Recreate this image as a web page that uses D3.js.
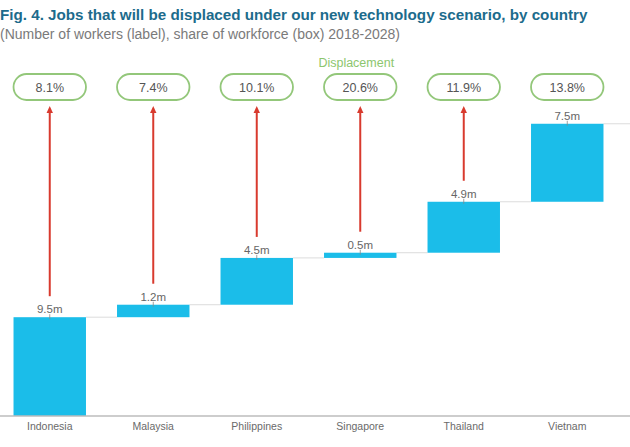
<!DOCTYPE html>
<html><head><meta charset="utf-8">
<script src="https://cdn.jsdelivr.net/npm/d3@7/dist/d3.min.js"></script>
<style>body{margin:0;background:#fff}svg{display:block}</style>
</head><body>
<svg id="c" width="630" height="447"></svg>
<script>
const countries = ["Indonesia","Malaysia","Philippines","Singapore","Thailand","Vietnam"];
const workers = [9.5, 1.2, 4.5, 0.5, 4.9, 7.5];
const workerLabels = ["9.5m","1.2m","4.5m","0.5m","4.9m","7.5m"];
const shares = ["8.1%","7.4%","10.1%","20.6%","11.9%","13.8%"];
const hasArrow = [true, true, true, true, true, false];

const svg = d3.select("#c");
const font = "'Liberation Sans', Arial, sans-serif";

// cumulative
let acc = 0;
const data = countries.map((c, i) => { const s = acc; acc += workers[i]; return {c, i, start: s, end: acc}; });

const x = d3.scaleBand().domain(countries).range([-2, 619]).paddingInner(0.3).paddingOuter(0.15);
const y = d3.scaleLinear().domain([0, 30]).range([416, 104]);

// title
svg.append("text").attr("x", 0).attr("y", 20).attr("font-family", font).attr("font-weight", "bold")
  .attr("font-size", 15.2).attr("fill", "#1c6b8c")
  .text("Fig. 4. Jobs that will be displaced under our new technology scenario, by country");
svg.append("text").attr("x", 0).attr("y", 39).attr("font-family", font)
  .attr("font-size", 14).attr("fill", "#7a7a7a")
  .text("(Number of workers (label), share of workforce (box) 2018-2028)");

// connectors
const g = svg.append("g");
data.forEach((d, i) => {
  const x1 = x(d.c) + x.bandwidth();
  const x2 = i < data.length - 1 ? x(data[i + 1].c) : 630;
  g.append("line").attr("x1", x1).attr("x2", x2).attr("y1", y(d.end)).attr("y2", y(d.end))
    .attr("stroke", "#dcdcdc").attr("stroke-width", 1);
});

// bars
g.selectAll("rect.bar").data(data).join("rect").attr("class", "bar")
  .attr("x", d => x(d.c)).attr("width", x.bandwidth())
  .attr("y", d => y(d.end)).attr("height", d => y(d.start) - y(d.end))
  .attr("fill", "#1bbde9");

// axis
const axis = svg.append("g").attr("transform", `translate(0,${y(0)})`)
  .call(d3.axisBottom(x).tickSize(0).tickPadding(7));
axis.select(".domain").attr("d", "M0,0H630").attr("stroke", "#bdbdbd").attr("stroke-width", 1.5);
axis.selectAll("text").attr("font-family", font).attr("font-size", 10.5).attr("fill", "#6a6a6a");

// value labels
g.selectAll("text.val").data(data).join("text").attr("class", "val")
  .attr("x", d => x(d.c) + x.bandwidth() / 2).attr("y", d => y(d.end) - 4)
  .attr("text-anchor", "middle").attr("font-family", font).attr("font-size", 11.5).attr("fill", "#666")
  .text((d, i) => workerLabels[i]);
g.selectAll("line.tick2").data(data).join("line").attr("class", "tick2")
  .attr("x1", d => x(d.c) + x.bandwidth() / 2).attr("x2", d => x(d.c) + x.bandwidth() / 2)
  .attr("y1", d => y(d.end) - 3).attr("y2", d => y(d.end) + 2)
  .attr("stroke", "#888").attr("stroke-width", 0.8);

// arrows
const arrowTop = 106;
data.forEach((d, i) => {
  if (!hasArrow[i]) return;
  const cx = x(d.c) + x.bandwidth() / 2;
  svg.append("line").attr("x1", cx).attr("x2", cx).attr("y1", y(d.end) - 21).attr("y2", arrowTop + 5)
    .attr("stroke", "#d83a2e").attr("stroke-width", 2);
  svg.append("path").attr("d", `M${cx},${arrowTop}L${cx - 3.2},${arrowTop + 7}L${cx + 3.2},${arrowTop + 7}Z`)
    .attr("fill", "#d83a2e");
});

// pills
const pills = svg.append("g");
data.forEach((d, i) => {
  const px = x(d.c);
  pills.append("rect").attr("x", px).attr("y", 74).attr("width", x.bandwidth()).attr("height", 26)
    .attr("rx", 13).attr("ry", 13).attr("fill", "#fff").attr("stroke", "#93c77a").attr("stroke-width", 1.8);
  pills.append("text").attr("x", px + x.bandwidth() / 2).attr("y", 91.5).attr("text-anchor", "middle")
    .attr("font-family", font).attr("font-size", 12.5).attr("fill", "#555").text(shares[i]);
});

svg.append("text").attr("x", x("Singapore") + x.bandwidth() / 2 - 4).attr("y", 67).attr("text-anchor", "middle")
  .attr("font-family", font).attr("font-size", 12.5).attr("fill", "#8cc66e").text("Displacement");
</script>
</body></html>
